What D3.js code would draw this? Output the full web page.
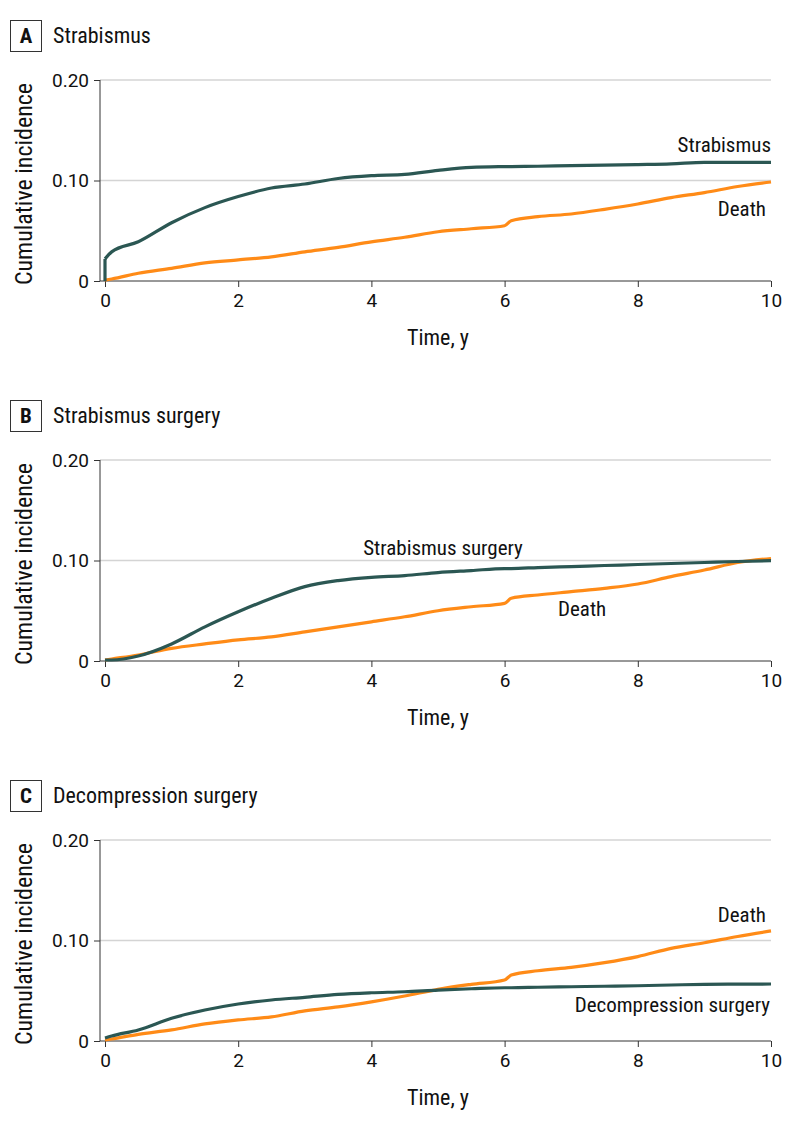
<!DOCTYPE html>
<html>
<head>
<meta charset="utf-8">
<script src="https://cdn.jsdelivr.net/npm/d3@7"></script>
<style>
  body { margin: 0; background: #fff; }
  text { font-family: "Liberation Sans Narrow", "Roboto Condensed", Roboto, sans-serif; fill: #111; }
</style>
</head>
<body>
<div id="chart"></div>
<script>
var width = 794,
    height = 1126;
var tickFont = "Roboto, 'Noto Sans', sans-serif";

// shared time grid (years)
var times = [0, 0.1, 0.5, 1, 1.5, 2, 2.5, 3, 3.5, 4, 4.5, 5, 5.5, 6, 6.1, 6.5, 7, 7.5, 8, 8.5, 9, 9.5, 10];

var strabismusA = [0.022, 0.029, 0.039, 0.058, 0.073, 0.084, 0.0925, 0.0965, 0.102, 0.1048, 0.106, 0.110, 0.113, 0.1138, 0.1139, 0.1142, 0.1148, 0.1152, 0.1158, 0.1165, 0.118, 0.118, 0.118];
var deathA = [0.001, 0.002, 0.0077, 0.0126, 0.018, 0.021, 0.024, 0.029, 0.0335, 0.039, 0.0435, 0.049, 0.052, 0.055, 0.060, 0.064, 0.0667, 0.0713, 0.0766, 0.083, 0.088, 0.094, 0.0985];

var surgeryB = [0.001, 0.001, 0.005, 0.017, 0.034, 0.049, 0.0624, 0.074, 0.080, 0.0833, 0.085, 0.088, 0.090, 0.092, 0.092, 0.093, 0.094, 0.095, 0.096, 0.097, 0.098, 0.099, 0.0998];
var deathB = [0.001, 0.002, 0.006, 0.0126, 0.017, 0.021, 0.024, 0.029, 0.034, 0.039, 0.044, 0.050, 0.054, 0.0574, 0.0624, 0.0657, 0.069, 0.0723, 0.0766, 0.084, 0.0905, 0.098, 0.102];

var decompC = [0.003, 0.005, 0.011, 0.0226, 0.0308, 0.0368, 0.0408, 0.0435, 0.0464, 0.048, 0.049, 0.0507, 0.052, 0.053, 0.053, 0.0535, 0.054, 0.0545, 0.055, 0.0557, 0.0564, 0.0566, 0.0567];
var deathC = [0.001, 0.002, 0.0066, 0.011, 0.017, 0.021, 0.024, 0.030, 0.034, 0.039, 0.0448, 0.0514, 0.0564, 0.0607, 0.0656, 0.0699, 0.0733, 0.078, 0.084, 0.0922, 0.0978, 0.104, 0.1095];

var panelLetters = ["A", "B", "C"];
var panelTitles = ["Strabismus", "Strabismus surgery", "Decompression surgery"];
var eventLabels = ["Strabismus", "Strabismus surgery", "Decompression surgery"];
var xTicks = [0, 2, 4, 6, 8, 10];
var yTicks = [0, 0.10, 0.20];
var yTickLabels = ["0", "0.10", "0.20"];

var teal = "#2b5753",
    orange = "#ff8b17";

var svg = d3.select("#chart").append("svg")
    .attr("width", width)
    .attr("height", height);

var x = d3.scaleLinear().domain([0, 10]).range([105, 771]);

var line = d3.line()
    .curve(d3.curveMonotoneX)
    .x(function (d) { return x(d[0]); })
    .y(function (d) { return d[1]; });

var panels = [
    {top: 80, event: strabismusA, death: deathA, jumpStart: true,
     evLabel: {x: 771, y: 152, anchor: "end"}, deLabel: {x: 766, y: 216, anchor: "end"}},
    {top: 460, event: surgeryB, death: deathB, jumpStart: false,
     evLabel: {x: 443, y: 555, anchor: "middle"}, deLabel: {x: 558, y: 616, anchor: "start"}},
    {top: 840, event: decompC, death: deathC, jumpStart: false,
     evLabel: {x: 770, y: 1012, anchor: "end"}, deLabel: {x: 766, y: 922, anchor: "end"}}
];

panels.forEach(function (p, i) {
    var y = d3.scaleLinear().domain([0, 0.2]).range([p.top + 201, p.top]);
    var g = svg.append("g");

    // panel heading
    g.append("rect")
        .attr("x", 10.5).attr("y", p.top - 59.5)
        .attr("width", 31).attr("height", 31)
        .style("fill", "none").style("stroke", "#333").style("stroke-width", 1);
    g.append("text")
        .attr("x", 26).attr("y", p.top - 37)
        .attr("text-anchor", "middle")
        .style("font-size", "21px").style("font-weight", "bold")
        .text(panelLetters[i]);
    g.append("text")
        .attr("x", 53).attr("y", p.top - 37)
        .style("font-size", "22px")
        .text(panelTitles[i]);

    // grid
    g.selectAll("line.grid")
        .data([0.10, 0.20])
        .enter().append("line")
        .attr("class", "grid")
        .attr("x1", 100).attr("x2", 771)
        .attr("y1", function (d) { return y(d); })
        .attr("y2", function (d) { return y(d); })
        .style("stroke", "#d4d4d4").style("stroke-width", 1.3);

    // axes
    var yAxis = d3.axisLeft(y).tickValues(yTicks).tickSize(6).tickPadding(5)
        .tickFormat(function (d, j) { return yTickLabels[j]; });
    var gy = g.append("g").attr("transform", "translate(100,0)").call(yAxis);
    gy.select(".domain").attr("d", "M0," + y(0.2) + "V" + y(0)).style("stroke", "#333");

    var xAxis = d3.axisBottom(x).tickValues(xTicks).tickSize(6).tickPadding(7);
    var gx = g.append("g").attr("transform", "translate(0," + y(0) + ")").call(xAxis);
    gx.select(".domain").attr("d", "M100,0H771").style("stroke", "#333");

    [gx, gy].forEach(function (a) {
        a.selectAll(".tick line").style("stroke", "#333");
        a.selectAll(".tick text")
            .style("font-size", "19px")
            .style("font-family", tickFont)
            .style("fill", "#111");
    });

    g.append("text")
        .attr("transform", "translate(32," + (p.top + 104) + ") rotate(-90)")
        .attr("text-anchor", "middle")
        .style("font-size", "24px")
        .text("Cumulative incidence");

    g.append("text")
        .attr("x", 438).attr("y", p.top + 265)
        .attr("text-anchor", "middle")
        .style("font-size", "22px")
        .text("Time, y");

    // curves
    var deathPts = times.map(function (t, j) { return [t, y(p.death[j])]; });
    var evPts = times.map(function (t, j) { return [t, y(p.event[j])]; });

    g.append("path")
        .attr("d", line(deathPts))
        .style("fill", "none").style("stroke", orange)
        .style("stroke-width", 3.2).style("stroke-linejoin", "round");
    g.append("path")
        .attr("d", line(evPts))
        .style("fill", "none").style("stroke", teal)
        .style("stroke-width", 3.2).style("stroke-linejoin", "round");
    if (p.jumpStart) {
        // vertical jump at time 0
        g.append("line")
            .attr("x1", x(0)).attr("x2", x(0))
            .attr("y1", y(0)).attr("y2", y(p.event[0]))
            .style("stroke", teal).style("stroke-width", 3.2);
    }

    g.append("text")
        .attr("x", p.evLabel.x).attr("y", p.evLabel.y)
        .attr("text-anchor", p.evLabel.anchor)
        .style("font-size", "21px")
        .text(eventLabels[i]);
    g.append("text")
        .attr("x", p.deLabel.x).attr("y", p.deLabel.y)
        .attr("text-anchor", p.deLabel.anchor)
        .style("font-size", "21px")
        .text("Death");
});
</script>
</body>
</html>
